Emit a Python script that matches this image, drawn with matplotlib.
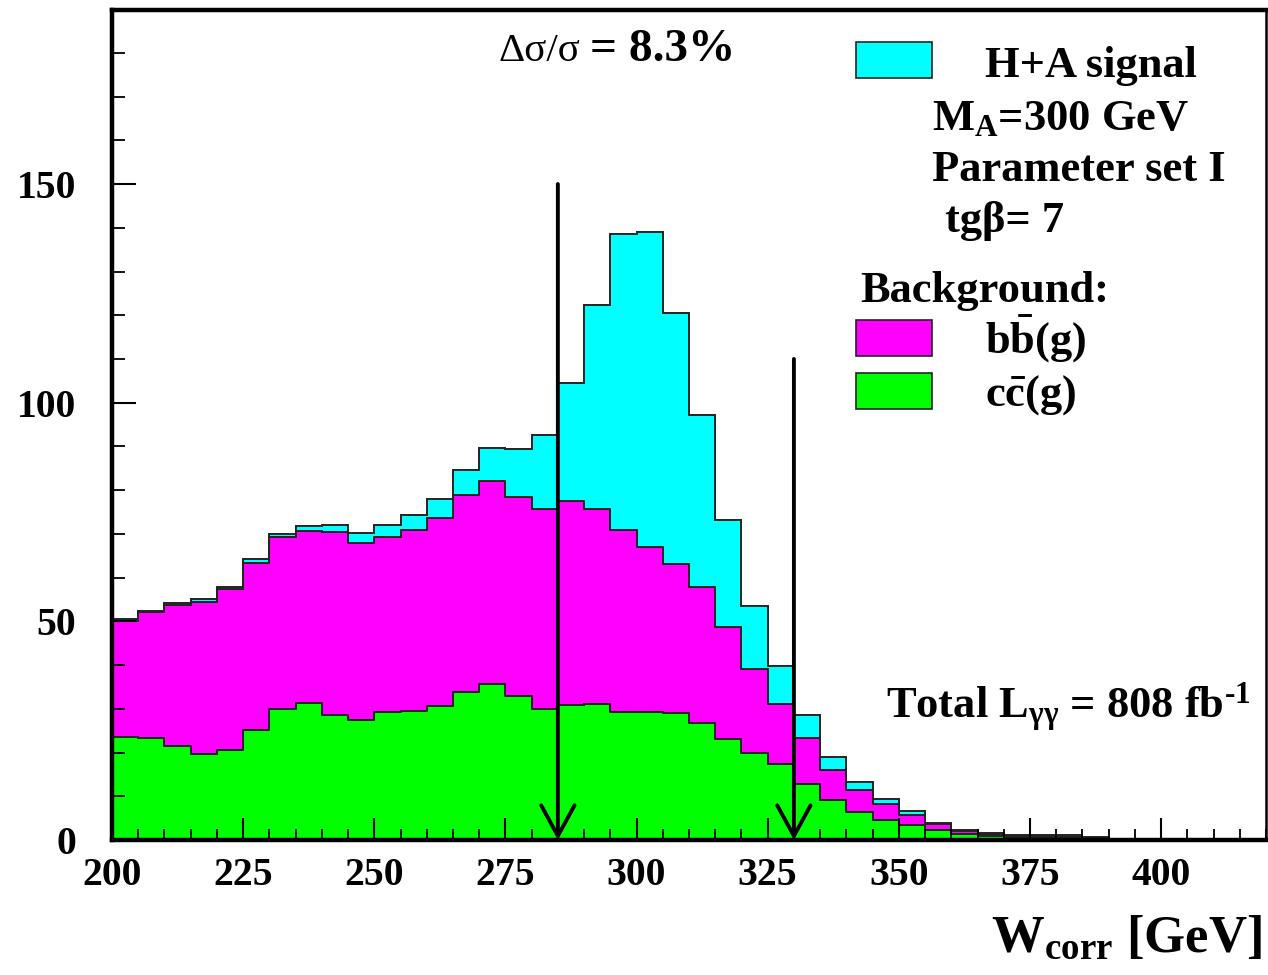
import matplotlib
matplotlib.use("Agg")
import matplotlib.pyplot as plt
from matplotlib.patches import Rectangle
from matplotlib.ticker import MultipleLocator
import numpy as np

# bin edges: 5 GeV bins from 200 to 420 GeV
edges = np.arange(200, 425, 5)

# stacked components (events per bin)
cc_bg = [23.5, 23.4, 21.5, 19.7, 20.6, 25.2, 29.9, 31.4, 28.6, 27.4,
         29.2, 29.4, 30.6, 33.8, 35.7, 32.9, 30.0, 30.8, 31.0, 29.3,
         29.2, 29.1, 26.8, 23.0, 20.0, 17.3, 12.9, 9.2, 6.4, 4.6,
         3.5, 2.4, 1.4, 0.9, 0.7, 0.7, 0.7, 0.3, 0, 0, 0, 0, 0, 0]
bb_bg = [26.6, 28.7, 32.2, 34.8, 36.7, 38.1, 39.3, 39.3, 41.8, 40.6,
         40.2, 41.5, 43.0, 45.0, 46.3, 45.5, 45.8, 46.8, 44.7, 41.5,
         37.7, 33.9, 31.1, 25.6, 19.1, 13.9, 10.4, 6.8, 5.0, 3.6,
         2.3, 1.2, 0.7, 0.5, 0.2, 0.2, 0.1, 0.2, 0, 0, 0, 0, 0, 0]
signal = [0.4, 0.3, 0.4, 0.5, 0.6, 0.9, 0.8, 1.2, 1.7, 2.1,
          2.7, 3.4, 4.4, 5.7, 7.6, 11.0, 16.9, 27.0, 46.6, 67.7,
          72.2, 57.6, 39.3, 24.5, 14.4, 8.5, 5.3, 2.9, 1.9, 1.1,
          0.8, 0.4, 0.3, 0.3, 0.2, 0.2, 0.3, 0.1, 0, 0, 0, 0, 0, 0]

# mass window cuts (arrows)
cut_lo, cut_lo_top = 285, 150
cut_hi, cut_hi_top = 330, 110

plt.rcParams['font.family'] = ['Liberation Serif', 'DejaVu Serif']
plt.rcParams['font.weight'] = 'bold'
plt.rcParams['mathtext.default'] = 'regular'

W, H = 1268, 975
fig = plt.figure(figsize=(W / 100, H / 100), dpi=100)
ax = fig.add_axes([112 / W, 1 - 840 / H, (1266 - 112) / W, (840 - 10) / H])

lvl_cc = np.array(cc_bg)
lvl_bb = lvl_cc + np.array(bb_bg)
lvl_all = lvl_bb + np.array(signal)

for lvl, col in [(lvl_all, '#00ffff'), (lvl_bb, '#ff00ff'), (lvl_cc, '#00ff00')]:
    ax.stairs(lvl, edges, fill=True, color=col, lw=0)
    ax.stairs(lvl, edges, color='#222222', lw=1.4)

ax.set_xlim(200, 420)
ax.set_ylim(0, 189.8)

for xc, top in [(cut_lo, cut_lo_top), (cut_hi, cut_hi_top)]:
    ax.annotate('', xy=(xc, 0), xytext=(xc, top),
                arrowprops=dict(arrowstyle='->,head_length=1.1,head_width=0.6',
                                mutation_scale=20, lw=2.8, color='k',
                                shrinkA=0, shrinkB=0),
                annotation_clip=False)

ax.xaxis.set_minor_locator(MultipleLocator(5))
ax.yaxis.set_minor_locator(MultipleLocator(10))
ax.set_xticks([200, 225, 250, 275, 300, 325, 350, 375, 400])
ax.set_xticklabels(['200', '225', '250', '275', '300', '325', '350', '375', '400'])
ax.set_yticks([0, 50, 100, 150])
ax.set_yticklabels(['0', '50', '100', '150'])
ax.tick_params(axis='x', which='major', direction='in', length=16, width=1.5,
               labelsize=28.5, pad=12)
ax.tick_params(axis='x', which='minor', direction='in', length=8, width=1.3)
ax.tick_params(axis='y', which='major', direction='in', length=17, width=1.5,
               labelsize=28.5, pad=26)
ax.tick_params(axis='y', which='minor', direction='in', length=9, width=1.3)
for lab in ax.get_xticklabels() + ax.get_yticklabels():
    lab.set_fontweight('bold')
for side, sp in ax.spines.items():
    sp.set_linewidth(1.8 if side == 'right' else 3.2)
ax.set_axisbelow(False)


def ftext(x, y, s, **kw):
    # place text by pixel position (left, baseline) in the figure
    kw.setdefault('fontsize', 32)
    kw.setdefault('fontweight', 'bold')
    fig.text(x / W, 1 - y / H, s, va='baseline', **kw)


# legend boxes
for y0, col in [(42, '#00ffff'), (320, '#ff00ff'), (373, '#00ff00')]:
    fig.patches.append(Rectangle((856 / W, 1 - (y0 + 36) / H), 76 / W, 36 / H,
                                 transform=fig.transFigure, facecolor=col,
                                 edgecolor='#222222', lw=1.2))

ftext(985, 77, 'H+A signal')
ftext(932, 130, 'M$_{A}$=300 GeV')
ftext(932, 181, 'Parameter set I')
ftext(945, 232, 'tgβ= 7')
ftext(860, 302, 'Background:')
ftext(985, 354, r'b$\bar{b}$(g)')
ftext(985, 406, r'c$\bar{c}$(g)')
ftext(498, 61, 'Δσ/σ', fontweight='normal', fontsize=29.5)
ftext(590, 61, '= 8.3%', fontsize=34)
ftext(886, 718, 'Total L$_{γγ}$ = 808 fb$^{‐1}$')
fig.text(1262 / W, 1 - 952 / H, 'W$_{corr}$ [GeV]', ha='right', va='baseline',
         fontsize=38, fontweight='bold')

fig.savefig('out.png', dpi=100)
